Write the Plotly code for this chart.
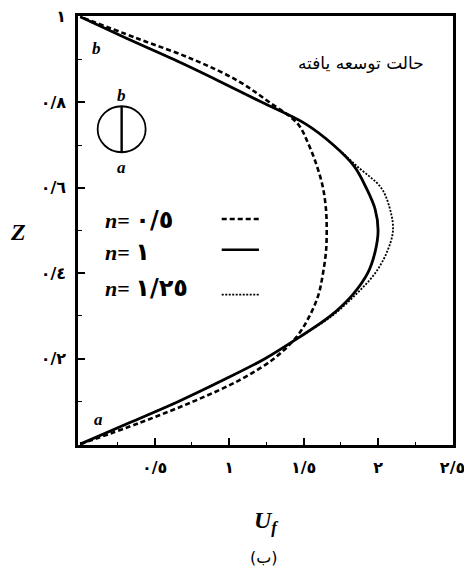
import plotly.graph_objects as go

# ---- data ----
z = [0, 0.05, 0.1, 0.15, 0.2, 0.25, 0.3, 0.35, 0.4, 0.45, 0.5,
     0.55, 0.6, 0.65, 0.7, 0.75, 0.8, 0.85, 0.9, 0.95, 1.0]
u_n05 = [0, 0.40, 0.76, 1.07, 1.30, 1.45, 1.54, 1.60, 1.63, 1.65, 1.655,
         1.65, 1.63, 1.59, 1.535, 1.46, 1.27, 1.06, 0.76, 0.38, 0]
u_n1 = [0, 0.33, 0.66, 0.96, 1.24, 1.47, 1.68, 1.83, 1.93, 1.98, 2.0,
        1.98, 1.92, 1.84, 1.70, 1.51, 1.22, 0.93, 0.63, 0.31, 0]
u_n125 = [0, 0.33, 0.66, 0.96, 1.24, 1.47, 1.69, 1.85, 1.98, 2.06, 2.10,
          2.08, 2.02, 1.86, 1.70, 1.51, 1.22, 0.93, 0.63, 0.31, 0]

x_tickvals = [0.5, 1, 1.5, 2, 2.5]
x_ticktext = ["٠/٥", "١", "١/٥", "٢", "٢/٥"]
y_tickvals = [0.2, 0.4, 0.6, 0.8, 1.0]
y_ticktext = ["٠/٢", "٠/٤", "٠/٦", "٠/٨", "١"]

legend_n = ["٠/٥", "١", "١/٢٥"]
legend_z = [0.524, 0.45, 0.366]
legend_line_z = [0.527, 0.455, 0.35]
legend_dash = ["5px,3px", "solid", "2px,1.5px"]
legend_width = [2.4, 2.6, 1.8]

title_text = "حالت توسعه یافته"

fig = go.Figure()
fig.add_trace(go.Scatter(x=u_n05, y=z, mode="lines", line=dict(color="black", width=2.6, dash="5px,3px", shape="spline"), showlegend=False))
fig.add_trace(go.Scatter(x=u_n125, y=z, mode="lines", line=dict(color="black", width=1.8, dash="2px,1.5px", shape="spline"), showlegend=False))
fig.add_trace(go.Scatter(x=u_n1, y=z, mode="lines", line=dict(color="black", width=2.8, shape="spline"), showlegend=False))

tickfont = dict(family="DejaVu Sans", size=16, color="black", weight="bold")

fig.update_xaxes(range=[-0.015, 2.503], showgrid=False, zeroline=False, automargin=False,
                 ticklabeloverflow="allow",
                 showline=True, linecolor="black", linewidth=2.5, mirror=True,
                 ticks="inside", ticklen=7, tickwidth=1.5, tickcolor="black",
                 tickvals=x_tickvals, ticktext=x_ticktext, tickfont=tickfont,
                 ticklabelstandoff=6,
                 minor=dict(ticks="inside", ticklen=3, tickwidth=1.2, tickcolor="black",
                            tick0=0, dtick=0.25))
fig.update_yaxes(range=[-0.002, 1.002], showgrid=False, zeroline=False, automargin=False,
                 ticklabeloverflow="allow",
                 showline=True, linecolor="black", linewidth=2.5, mirror=True,
                 ticks="inside", ticklen=7, tickwidth=1.5, tickcolor="black",
                 tickvals=y_tickvals, ticktext=y_ticktext, tickfont=tickfont,
                 ticklabelstandoff=6,
                 minor=dict(ticks="inside", ticklen=4, tickwidth=1.2, tickcolor="black",
                            tick0=0, dtick=0.1))

annotations = []
serif = "Liberation Serif"
annotations.append(dict(text=title_text, x=1.885, y=0.893, xref="x", yref="y", showarrow=False,
                        xanchor="center", yanchor="middle",
                        font=dict(family="DejaVu Sans", size=17, color="black")))
annotations.append(dict(text="<b><i>Z</i></b>", x=-0.16, y=0.497, xref="paper", yref="paper", showarrow=False,
                        xanchor="center", yanchor="middle",
                        font=dict(family=serif, size=24, color="black")))
annotations.append(dict(text="<b><i>U<sub>f</sub></i></b>", x=0.501, y=-0.18, xref="paper", yref="paper", showarrow=False,
                        xanchor="center", yanchor="middle",
                        font=dict(family=serif, size=24, color="black")))
annotations.append(dict(text="(ب)", x=0.496, y=-0.262, xref="paper", yref="paper", showarrow=False,
                        xanchor="center", yanchor="middle",
                        font=dict(family="DejaVu Sans", size=16, color="black")))
for txt, ux, zy in [("b", 0.11, 0.925), ("a", 0.12, 0.058), ("b", 0.278, 0.816), ("a", 0.278, 0.648)]:
    annotations.append(dict(text="<b><i>%s</i></b>" % txt, x=ux, y=zy, xref="x", yref="y", showarrow=False,
                            xanchor="center", yanchor="middle",
                            font=dict(family=serif, size=17, color="black")))
for num, zy in zip(legend_n, legend_z):
    lbl = "<b><i>n</i>= <span style=\"font-family:DejaVu Sans;font-size:24px\">%s</span></b>" % num
    annotations.append(dict(text=lbl, x=0.15, y=zy, xref="x", yref="y", xanchor="left",
                            yanchor="middle", showarrow=False,
                            font=dict(family=serif, size=22, color="black")))

shapes = []
shapes.append(dict(type="circle", xref="x", yref="y", xsizemode="pixel", ysizemode="pixel",
                   xanchor=0.278, yanchor=0.737, x0=-24, x1=24, y0=-23, y1=23,
                   line=dict(color="black", width=1.8)))
shapes.append(dict(type="line", xref="x", yref="y", xsizemode="pixel", ysizemode="pixel",
                   xanchor=0.278, yanchor=0.737, x0=0, x1=0, y0=-23, y1=23,
                   line=dict(color="black", width=2.4)))
for zy, d, w in zip(legend_line_z, legend_dash, legend_width):
    shapes.append(dict(type="line", xref="x", yref="y", x0=0.95, x1=1.2, y0=zy, y1=zy,
                       line=dict(color="black", width=w, dash=d)))

# the page adds an 8px body margin, so margins are shifted to keep the plot box in place
fig.update_layout(width=472, height=571, margin=dict(l=70, r=27, t=8, b=134),
                  paper_bgcolor="white", plot_bgcolor="white",
                  annotations=annotations, shapes=shapes)

fig.write_html("out.html")
